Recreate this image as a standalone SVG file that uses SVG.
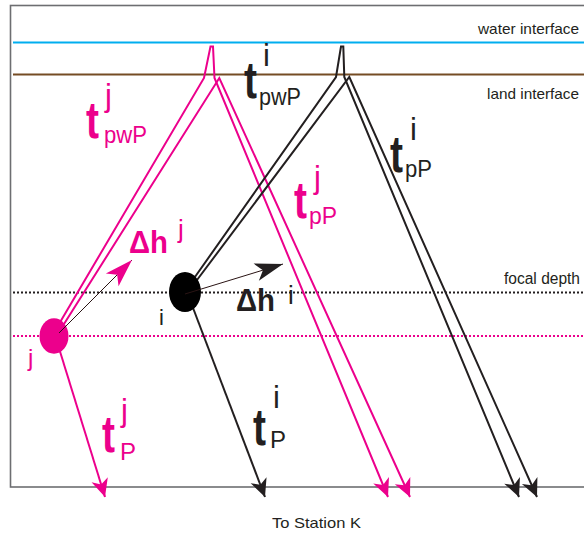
<svg xmlns="http://www.w3.org/2000/svg" width="584" height="533" viewBox="0 0 584 533">
<style>
.lbl{font-family:"Liberation Sans",Arial,sans-serif;fill:#231f20}
.pk{fill:#ec008c}
.bk{fill:#231f20}
.tt{font-family:"Liberation Sans",Arial,sans-serif;font-weight:bold;font-size:52px}
.sup{font-family:"Liberation Sans",Arial,sans-serif;font-size:31px}
.sub{font-family:"Liberation Sans",Arial,sans-serif;font-size:24px}
.dhl{font-family:"Liberation Sans",Arial,sans-serif;font-weight:bold;font-size:32px}
.ray{fill:none;stroke-width:2;stroke-linejoin:miter}
.rp{stroke:#ec008c}
.rk{stroke:#231f20}
.dh{stroke:#2a1414;stroke-width:1;fill:none}
</style>
<defs>
<marker id="arrP" markerUnits="userSpaceOnUse" viewBox="-20 -10 22 20" markerWidth="22" markerHeight="20" refX="0" refY="0" orient="auto">
<path d="M0,0 L-18,-8.5 L-13,0 L-18,8.5 Z" fill="#ec008c"/>
</marker>
<marker id="arrK" markerUnits="userSpaceOnUse" viewBox="-20 -10 22 20" markerWidth="22" markerHeight="20" refX="0" refY="0" orient="auto">
<path d="M0,0 L-18,-8.5 L-13,0 L-18,8.5 Z" fill="#231f20"/>
</marker>
<marker id="dhP" markerUnits="userSpaceOnUse" viewBox="-30 -11 32 22" markerWidth="32" markerHeight="22" refX="0" refY="0" orient="auto">
<path d="M0,0 L-28,-9 L-21,0 L-28,9 Z" fill="#ec008c"/>
</marker>
<marker id="dhK" markerUnits="userSpaceOnUse" viewBox="-30 -11 32 22" markerWidth="32" markerHeight="22" refX="0" refY="0" orient="auto">
<path d="M0,0 L-28,-9 L-21,0 L-28,9 Z" fill="#231f20"/>
</marker>
</defs>
<rect width="584" height="533" fill="#ffffff"/>
<g id="frame">
<rect x="10.5" y="5.5" width="600" height="481.5" fill="none" stroke="#6d6e71" stroke-width="1.6"/>
<line x1="13" y1="42.5" x2="584" y2="42.5" stroke="#00aeef" stroke-width="2"/>
<line x1="13" y1="74.5" x2="584" y2="74.5" stroke="#754c24" stroke-width="2"/>
<line x1="13" y1="292.5" x2="584" y2="292.5" stroke="#231f20" stroke-width="2" stroke-dasharray="2 2"/>
<line x1="13" y1="336" x2="584" y2="336" stroke="#ec008c" stroke-width="2" stroke-dasharray="2 2"/>
<text class="lbl" x="579" y="34" font-size="15" text-anchor="end" textLength="101" lengthAdjust="spacingAndGlyphs">water interface</text>
<text class="lbl" x="579" y="99" font-size="15" text-anchor="end" textLength="92" lengthAdjust="spacingAndGlyphs">land interface</text>
<text class="lbl" x="580" y="284" font-size="16" text-anchor="end" textLength="76" lengthAdjust="spacingAndGlyphs">focal depth</text>
<text class="lbl" x="272" y="528" font-size="15" textLength="89" lengthAdjust="spacingAndGlyphs">To Station K</text>
</g>
<g id="connectors">
<polyline class="ray rp" points="59,324 204,78 210.5,46.5 213,46.5 214.5,78 388,497" marker-end="url(#arrP)"/>
<polyline class="ray rp" points="64,324 219.3,78 410,497" marker-end="url(#arrP)"/>
<line class="ray rp" x1="58" y1="345" x2="105" y2="497" marker-end="url(#arrP)"/>
<polyline class="ray rk" points="190,284 336,77 341,46.5 343.3,46.5 344.3,77 519,497" marker-end="url(#arrK)"/>
<polyline class="ray rk" points="194,284 349.3,77 537,497" marker-end="url(#arrK)"/>
<line class="ray rk" x1="190" y1="300" x2="265" y2="497" marker-end="url(#arrK)"/>
</g>
<g id="node-j">
<ellipse cx="54" cy="336" rx="14.5" ry="17.7" fill="#ec008c"/>
<text class="pk" x="28" y="366" font-family="Liberation Sans, Arial, sans-serif" font-size="24">j</text>
</g>
<g id="node-i">
<ellipse cx="185" cy="292" rx="16" ry="20" fill="#000000"/>
<text class="bk" x="159" y="325" font-family="Liberation Sans, Arial, sans-serif" font-size="22">i</text>
</g>
<g id="dh-arrows">
<line class="dh" x1="59" y1="333" x2="132" y2="260" marker-end="url(#dhP)"/>
<line class="dh" x1="185" y1="294" x2="283" y2="264" marker-end="url(#dhK)"/>
</g>
<g id="label-tpwPj" class="pk">
<text class="tt" x="86" y="138" textLength="13" lengthAdjust="spacingAndGlyphs">t</text>
<text class="sup" x="105" y="106">j</text>
<text class="sub" x="104" y="143" textLength="43" lengthAdjust="spacingAndGlyphs">pwP</text>
</g>
<g id="label-tpwPi" class="bk">
<text class="tt" x="244" y="98" textLength="13" lengthAdjust="spacingAndGlyphs">t</text>
<text class="sup" x="263" y="66">i</text>
<text class="sub" x="259" y="105" textLength="42" lengthAdjust="spacingAndGlyphs">pwP</text>
</g>
<g id="label-tpPi" class="bk">
<text class="tt" x="390" y="172" textLength="13" lengthAdjust="spacingAndGlyphs">t</text>
<text class="sup" x="410" y="140">i</text>
<text class="sub" x="405" y="177" textLength="27" lengthAdjust="spacingAndGlyphs">pP</text>
</g>
<g id="label-tpPj" class="pk">
<text class="tt" x="294" y="218" textLength="13" lengthAdjust="spacingAndGlyphs">t</text>
<text class="sup" x="314" y="188">j</text>
<text class="sub" x="309" y="224" textLength="28" lengthAdjust="spacingAndGlyphs">pP</text>
</g>
<g id="label-tPj" class="pk">
<text class="tt" x="102" y="452" textLength="13" lengthAdjust="spacingAndGlyphs">t</text>
<text class="sup" x="121" y="421">j</text>
<text class="sub" x="120" y="460" font-size="28">P</text>
</g>
<g id="label-tPi" class="bk">
<text class="tt" x="253" y="445" textLength="13" lengthAdjust="spacingAndGlyphs">t</text>
<text class="sup" x="273" y="408">i</text>
<text class="sub" x="270" y="448" font-size="28">P</text>
</g>
<g id="label-dhj" class="pk">
<text class="dhl" x="129" y="253" textLength="39" lengthAdjust="spacingAndGlyphs">Δh</text>
<text x="178" y="238" font-family="Liberation Sans, Arial, sans-serif" font-size="26">j</text>
</g>
<g id="label-dhi" class="bk">
<text class="dhl" x="236" y="311" textLength="39" lengthAdjust="spacingAndGlyphs">Δh</text>
<text x="288" y="304" font-family="Liberation Sans, Arial, sans-serif" font-size="26">i</text>
</g>
</svg>
